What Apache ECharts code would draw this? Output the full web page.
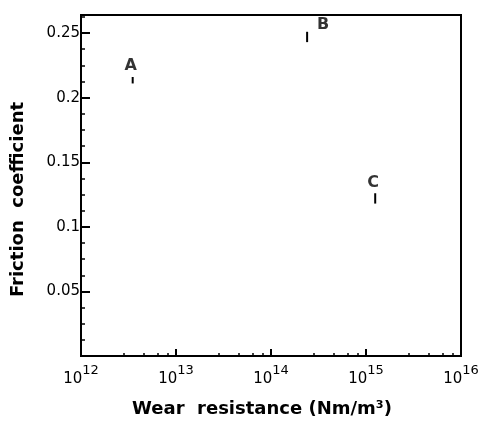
<!DOCTYPE html>
<html>
<head>
<meta charset="utf-8">
<script src="https://cdn.jsdelivr.net/npm/echarts@6/dist/echarts.min.js"></script>
<style>html,body{margin:0;padding:0;background:#fff}#c{width:486px;height:424px}</style>
</head>
<body>
<div id="c"></div>
<script>
// ---- data ----
const names = ['A', 'B', 'C'];
const wearResistance = [3.5e12, 2.4e14, 1.25e15];
const frictionLow = [0.211, 0.243, 0.118];
const frictionHigh = [0.216, 0.251, 0.126];
const yTicks = [0.05, 0.1, 0.15, 0.2, 0.25];
const xTickExponents = [12, 13, 14, 15, 16];

const chart = echarts.init(document.getElementById('c'));
const FONT = 'DejaVu Sans';
const labelOffsets = [[-2, 2], [16, 6], [-2, 3]];

const option = {
  animation: false,
  grid: { left: 81, right: 25, top: 15, bottom: 68, show: true, borderColor: '#000', borderWidth: 2, outerBoundsMode: 'none', containLabel: false },
  xAxis: {
    type: 'log', logBase: 10, min: 1e12, max: 1e16,
    name: 'Wear  resistance (Nm/m³)', nameLocation: 'middle', nameGap: 44,
    nameTextStyle: { fontFamily: FONT, fontSize: 18, fontWeight: 'bold', color: '#000', padding: [0, 18, 0, 0] },
    axisLine: { lineStyle: { color: '#000', width: 2 } },
    axisTick: { inside: true, length: 7, lineStyle: { color: '#000', width: 2 } },
    minorTick: { show: true, splitNumber: 5, length: 3, lineStyle: { color: '#000', width: 1.5 } },
    splitLine: { show: false },
    axisLabel: {
      margin: 8,
      formatter: function (v) {
        const e = Math.round(Math.log10(v));
        return xTickExponents.indexOf(e) >= 0 ? '{b|10}{s|' + e + '}' : '';
      },
      rich: {
        b: { fontFamily: FONT, fontSize: 15, color: '#000', verticalAlign: 'bottom', padding: [8, 0, 0, 0] },
        s: { fontFamily: FONT, fontSize: 13, color: '#000', verticalAlign: 'top', padding: [0, 0, 6, 0] }
      }
    }
  },
  yAxis: {
    type: 'value', min: 0, max: 0.264, interval: 0.05,
    name: 'Friction  coefficient', nameLocation: 'middle', nameGap: 54, nameRotate: 90,
    nameTextStyle: { fontFamily: FONT, fontSize: 18, fontWeight: 'bold', color: '#000', padding: [0, 28, 0, 0] },
    axisLine: { show: true, lineStyle: { color: '#000', width: 2 } },
    axisTick: { inside: true, length: 9, lineStyle: { color: '#000', width: 2 } },
    minorTick: { show: true, splitNumber: 4, length: 4, lineStyle: { color: '#000', width: 1.5 } },
    splitLine: { show: false },
    axisLabel: {
      margin: 1, fontFamily: FONT, fontSize: 15, color: '#000',
      formatter: function (v) {
        for (const t of yTicks) if (Math.abs(t - v) < 1e-9) return String(t);
        return '';
      }
    }
  },
  series: [
    {
      type: 'custom',
      renderItem: function (params, api) {
        const x = api.value(0);
        const p1 = api.coord([x, api.value(1)]);
        const p2 = api.coord([x, api.value(2)]);
        return { type: 'line', shape: { x1: p1[0], y1: p1[1], x2: p2[0], y2: p2[1] }, style: { stroke: '#000', lineWidth: 2 } };
      },
      data: names.map((n, i) => [wearResistance[i], frictionLow[i], frictionHigh[i]]),
      z: 5
    },
    {
      type: 'scatter', symbolSize: 0,
      data: names.map((n, i) => ({
        value: [wearResistance[i], frictionHigh[i]], name: n,
        label: { show: true, position: 'top', offset: labelOffsets[i], formatter: '{b}', fontFamily: FONT, fontSize: 16, fontWeight: 'bold', color: '#000' }
      }))
    }
  ]
};
chart.setOption(option);
</script>
</body>
</html>
